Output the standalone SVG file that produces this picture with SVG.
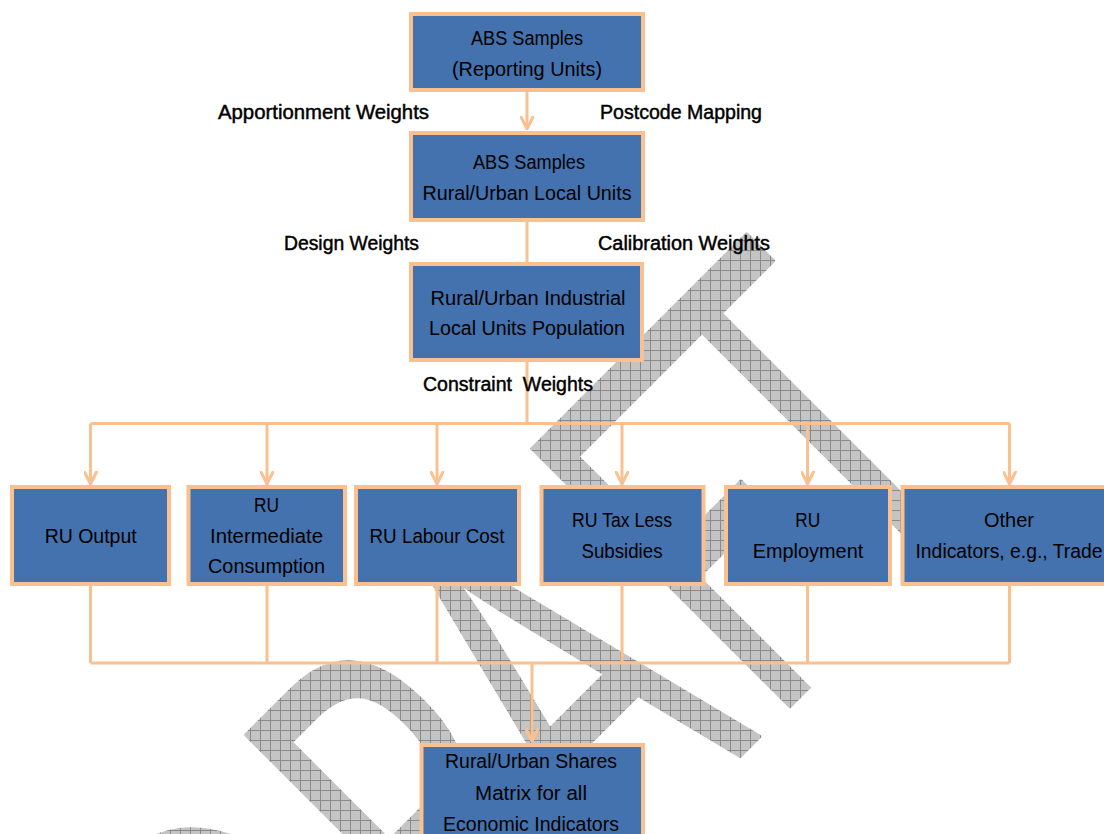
<svg xmlns="http://www.w3.org/2000/svg" width="1104" height="834" viewBox="0 0 1104 834">
<style>
.box{fill:#4372AE;stroke:#FAC090;stroke-width:4}
.t{font-family:"Liberation Sans",Arial,sans-serif;font-size:19.5px;fill:#000;text-anchor:middle}
.lbl{font-family:"Liberation Sans",Arial,sans-serif;font-size:19.5px;fill:#000;stroke:#000;stroke-width:0.45}
.c{fill:none;stroke:#FAC090;stroke-width:3}
.wm{font-family:"Open Sans","Liberation Sans",sans-serif;font-size:510px;fill:#fff;stroke:#fff;stroke-width:4;stroke-linejoin:round;text-anchor:middle}
</style>
<defs>
<pattern id="hatch" patternUnits="userSpaceOnUse" width="10" height="10">
<rect width="10" height="10" fill="#c4c4c4"/>
<path d="M0,0.5H10M0.5,0V10" stroke="#8a8a8a" stroke-width="1"/>
</pattern>
<mask id="wmMask" maskUnits="userSpaceOnUse" x="0" y="0" width="1104" height="834">
<g transform="translate(748,748) rotate(-45) scale(0.65,1)">
<text class="wm"><tspan x="-777" y="0">D</tspan><tspan x="-425" y="0">R</tspan><tspan x="-135" y="0">A</tspan><tspan x="172" y="0">F</tspan><tspan x="423" y="0">T</tspan></text>
</g>
</mask>
<marker id="arr" viewBox="0 0 14 14" refX="13" refY="7" markerWidth="14" markerHeight="14" orient="auto" markerUnits="userSpaceOnUse">
<path d="M1,1 L13,7 L1,13" fill="none" stroke="#FAC090" stroke-width="3" stroke-linejoin="round" stroke-linecap="round"/>
</marker>
</defs>

<rect id="watermark" x="0" y="0" width="1104" height="834" fill="url(#hatch)" mask="url(#wmMask)"/>

<g id="connectors">
<path class="c" d="M527,92V129" marker-end="url(#arr)"/>
<path class="c" d="M527,222V262"/>
<path class="c" d="M527,362V423.5"/>
<path class="c" d="M90.5,423.5H1009.5"/>
<path class="c" d="M90.5,423.5V484" marker-end="url(#arr)"/>
<path class="c" d="M267,423.5V484" marker-end="url(#arr)"/>
<path class="c" d="M437,423.5V484" marker-end="url(#arr)"/>
<path class="c" d="M622,423.5V484" marker-end="url(#arr)"/>
<path class="c" d="M807.5,423.5V484" marker-end="url(#arr)"/>
<path class="c" d="M1009.5,423.5V484" marker-end="url(#arr)"/>
<path class="c" d="M90.5,586V663M267,586V663M437,586V663M622,586V663M807.5,586V663M1009.5,586V663"/>
<path class="c" d="M90.5,663H1009.5"/>
<path class="c" d="M532,663V741" marker-end="url(#arr)"/>
</g>

<g id="lbl-apportionment"><text class="lbl" x="218" y="119" textLength="211" lengthAdjust="spacingAndGlyphs">Apportionment Weights</text></g>
<g id="lbl-postcode"><text class="lbl" x="600" y="119" textLength="162" lengthAdjust="spacingAndGlyphs">Postcode Mapping</text></g>
<g id="lbl-design"><text class="lbl" x="284" y="250" textLength="135" lengthAdjust="spacingAndGlyphs">Design Weights</text></g>
<g id="lbl-calibration"><text class="lbl" x="598" y="250" textLength="172" lengthAdjust="spacingAndGlyphs">Calibration Weights</text></g>
<g id="lbl-constraint"><text class="lbl" x="423" y="391" textLength="170" lengthAdjust="spacingAndGlyphs" xml:space="preserve">Constraint  Weights</text></g>

<g id="node-abs-reporting">
<rect class="box" x="411" y="14" width="232" height="76"/>
<text class="t" x="527" y="45" textLength="112" lengthAdjust="spacingAndGlyphs">ABS Samples</text>
<text class="t" x="527" y="76" textLength="150" lengthAdjust="spacingAndGlyphs">(Reporting Units)</text>
</g>
<g id="node-abs-local">
<rect class="box" x="411" y="133" width="232" height="87"/>
<text class="t" x="529" y="169" textLength="112" lengthAdjust="spacingAndGlyphs">ABS Samples</text>
<text class="t" x="527" y="200" textLength="209" lengthAdjust="spacingAndGlyphs">Rural/Urban Local Units</text>
</g>
<g id="node-population">
<rect class="box" x="411" y="264" width="231" height="96"/>
<text class="t" x="528" y="305" textLength="195" lengthAdjust="spacingAndGlyphs">Rural/Urban Industrial</text>
<text class="t" x="527" y="335" textLength="196" lengthAdjust="spacingAndGlyphs">Local Units Population</text>
</g>
<g id="node-output">
<rect class="box" x="12" y="487" width="157" height="97"/>
<text class="t" x="90.7" y="543" textLength="92" lengthAdjust="spacingAndGlyphs">RU Output</text>
</g>
<g id="node-intermediate">
<rect class="box" x="188.5" y="487" width="156.5" height="97"/>
<text class="t" x="266.4" y="512" textLength="25" lengthAdjust="spacingAndGlyphs">RU</text>
<text class="t" x="266.5" y="543" textLength="113" lengthAdjust="spacingAndGlyphs">Intermediate</text>
<text class="t" x="266.5" y="573" textLength="117" lengthAdjust="spacingAndGlyphs">Consumption</text>
</g>
<g id="node-labour">
<rect class="box" x="356" y="487" width="163" height="97"/>
<text class="t" x="437" y="543" textLength="135" lengthAdjust="spacingAndGlyphs">RU Labour Cost</text>
</g>
<g id="node-tax">
<rect class="box" x="541.5" y="487" width="162" height="97"/>
<text class="t" x="622" y="527" textLength="100" lengthAdjust="spacingAndGlyphs">RU Tax Less</text>
<text class="t" x="622" y="558" textLength="81" lengthAdjust="spacingAndGlyphs">Subsidies</text>
</g>
<g id="node-employment">
<rect class="box" x="726" y="487" width="164" height="97"/>
<text class="t" x="807.7" y="527" textLength="25" lengthAdjust="spacingAndGlyphs">RU</text>
<text class="t" x="808" y="558" textLength="110.6" lengthAdjust="spacingAndGlyphs">Employment</text>
</g>
<g id="node-other">
<rect class="box" x="902.5" y="487" width="214" height="97"/>
<text class="t" x="1009" y="527" textLength="50" lengthAdjust="spacingAndGlyphs">Other</text>
<text class="t" x="1009" y="558" textLength="187" lengthAdjust="spacingAndGlyphs">Indicators, e.g., Trade</text>
</g>
<g id="node-shares">
<rect class="box" x="421.5" y="745" width="221.5" height="100"/>
<text class="t" x="531" y="768" textLength="172" lengthAdjust="spacingAndGlyphs">Rural/Urban Shares</text>
<text class="t" x="531" y="800" textLength="112" lengthAdjust="spacingAndGlyphs">Matrix for all</text>
<text class="t" x="531" y="831" textLength="176" lengthAdjust="spacingAndGlyphs">Economic Indicators</text>
</g>
</svg>
